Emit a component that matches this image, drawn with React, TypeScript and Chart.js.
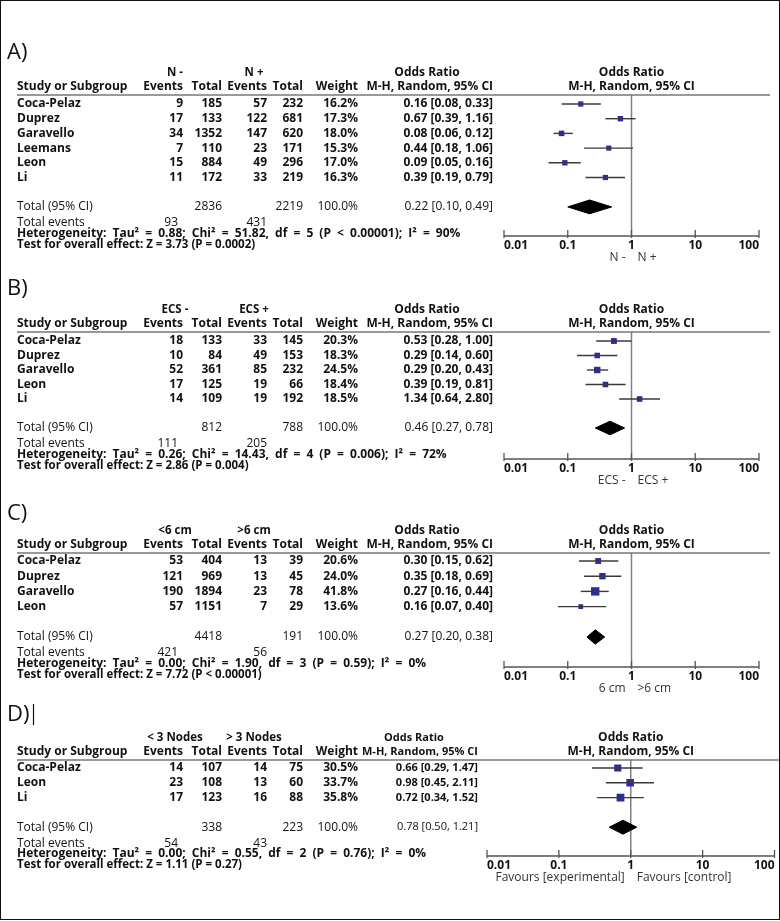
import React, { useEffect, useRef } from "react";
import { Chart, registerables } from "chart.js";

Chart.register(...registerables);

// ---------- Panel A ----------
const A_GROUPS = ["N -", "N +"];
const A_STUDIES = ["Coca-Pelaz", "Duprez", "Garavello", "Leemans", "Leon", "Li"];
const A_EV1 = [9, 17, 34, 7, 15, 11];
const A_TOT1 = [185, 133, 1352, 110, 884, 172];
const A_EV2 = [57, 122, 147, 23, 49, 33];
const A_TOT2 = [232, 681, 620, 171, 296, 219];
const A_WEIGHT = [16.2, 17.3, 18.0, 15.3, 17.0, 16.3];
const A_OR = [0.16, 0.67, 0.08, 0.44, 0.09, 0.39];
const A_LO = [0.08, 0.39, 0.06, 0.18, 0.05, 0.19];
const A_HI = [0.33, 1.16, 0.12, 1.06, 0.16, 0.79];
const A_TOTALS = [2836, 2219];
const A_TOTAL_EVENTS = [93, 431];
const A_POOLED = [0.22, 0.1, 0.49];
const A_HET = "Heterogeneity: Tau² = 0.88; Chi² = 51.82, df = 5 (P < 0.00001); I² = 90%";
const A_TEST = "Test for overall effect: Z = 3.73 (P = 0.0002)";
const A_CAPTION = ["N -", "N +"];

// ---------- Panel B ----------
const B_GROUPS = ["ECS -", "ECS +"];
const B_STUDIES = ["Coca-Pelaz", "Duprez", "Garavello", "Leon", "Li"];
const B_EV1 = [18, 10, 52, 17, 14];
const B_TOT1 = [133, 84, 361, 125, 109];
const B_EV2 = [33, 49, 85, 19, 19];
const B_TOT2 = [145, 153, 232, 66, 192];
const B_WEIGHT = [20.3, 18.3, 24.5, 18.4, 18.5];
const B_OR = [0.53, 0.29, 0.29, 0.39, 1.34];
const B_LO = [0.28, 0.14, 0.2, 0.19, 0.64];
const B_HI = [1.0, 0.6, 0.43, 0.81, 2.8];
const B_TOTALS = [812, 788];
const B_TOTAL_EVENTS = [111, 205];
const B_POOLED = [0.46, 0.27, 0.78];
const B_HET = "Heterogeneity: Tau² = 0.26; Chi² = 14.43, df = 4 (P = 0.006); I² = 72%";
const B_TEST = "Test for overall effect: Z = 2.86 (P = 0.004)";
const B_CAPTION = ["ECS -", "ECS +"];

// ---------- Panel C ----------
const C_GROUPS = ["<6 cm", ">6 cm"];
const C_STUDIES = ["Coca-Pelaz", "Duprez", "Garavello", "Leon"];
const C_EV1 = [53, 121, 190, 57];
const C_TOT1 = [404, 969, 1894, 1151];
const C_EV2 = [13, 13, 23, 7];
const C_TOT2 = [39, 45, 78, 29];
const C_WEIGHT = [20.6, 24.0, 41.8, 13.6];
const C_OR = [0.3, 0.35, 0.27, 0.16];
const C_LO = [0.15, 0.18, 0.16, 0.07];
const C_HI = [0.62, 0.69, 0.44, 0.4];
const C_TOTALS = [4418, 191];
const C_TOTAL_EVENTS = [421, 56];
const C_POOLED = [0.27, 0.2, 0.38];
const C_HET = "Heterogeneity: Tau² = 0.00; Chi² = 1.90, df = 3 (P = 0.59); I² = 0%";
const C_TEST = "Test for overall effect: Z = 7.72 (P < 0.00001)";
const C_CAPTION = ["6 cm", ">6 cm"];

// ---------- Panel D ----------
const D_GROUPS = ["< 3 Nodes", "> 3 Nodes"];
const D_STUDIES = ["Coca-Pelaz", "Leon", "Li"];
const D_EV1 = [14, 23, 17];
const D_TOT1 = [107, 108, 123];
const D_EV2 = [14, 13, 16];
const D_TOT2 = [75, 60, 88];
const D_WEIGHT = [30.5, 33.7, 35.8];
const D_OR = [0.66, 0.98, 0.72];
const D_LO = [0.29, 0.45, 0.34];
const D_HI = [1.47, 2.11, 1.52];
const D_TOTALS = [338, 223];
const D_TOTAL_EVENTS = [54, 43];
const D_POOLED = [0.78, 0.5, 1.21];
const D_HET = "Heterogeneity: Tau² = 0.00; Chi² = 0.55, df = 2 (P = 0.76); I² = 0%";
const D_TEST = "Test for overall effect: Z = 1.11 (P = 0.27)";
const D_CAPTION = ["Favours [experimental]", "Favours [control]"];

// ---------- Axis ----------
const AXIS_TICKS = [0.01, 0.1, 1, 10, 100];
const AXIS_LABELS = ["0.01", "0.1", "1", "10", "100"];

const FONT = '"Open Sans", "DejaVu Sans", sans-serif';
const INK = "#111";

type Layout = {
  top: number; height: number; labelY: number; lineY: number; axisY: number;
  firstRowY: number; rowStep: number; xMin: number; xMax: number;
  orRight: number; orHeaderX: number; lineRight: number; orSize: number;
};

type Panel = {
  label: string; groups: string[]; studies: string[]; ev1: number[]; tot1: number[];
  ev2: number[]; tot2: number[]; weight: number[]; or: number[]; lo: number[]; hi: number[];
  totals: number[]; totalEvents: number[]; pooled: number[]; het: string; test: string;
  caption: string[]; layout: Layout;
};

const PANELS: Panel[] = [
  {
    label: "A)", groups: A_GROUPS, studies: A_STUDIES, ev1: A_EV1, tot1: A_TOT1, ev2: A_EV2, tot2: A_TOT2,
    weight: A_WEIGHT, or: A_OR, lo: A_LO, hi: A_HI, totals: A_TOTALS, totalEvents: A_TOTAL_EVENTS,
    pooled: A_POOLED, het: A_HET, test: A_TEST, caption: A_CAPTION,
    layout: { top: 0, height: 272, labelY: 53, lineY: 95, axisY: 236, firstRowY: 104, rowStep: 14.7,
      xMin: 504, xMax: 759, orRight: 493, orHeaderX: 427, lineRight: 770, orSize: 12 },
  },
  {
    label: "B)", groups: B_GROUPS, studies: B_STUDIES, ev1: B_EV1, tot1: B_TOT1, ev2: B_EV2, tot2: B_TOT2,
    weight: B_WEIGHT, or: B_OR, lo: B_LO, hi: B_HI, totals: B_TOTALS, totalEvents: B_TOTAL_EVENTS,
    pooled: B_POOLED, het: B_HET, test: B_TEST, caption: B_CAPTION,
    layout: { top: 268, height: 226, labelY: 289, lineY: 332, axisY: 459, firstRowY: 341, rowStep: 14.5,
      xMin: 504, xMax: 759, orRight: 493, orHeaderX: 427, lineRight: 770, orSize: 12 },
  },
  {
    label: "C)", groups: C_GROUPS, studies: C_STUDIES, ev1: C_EV1, tot1: C_TOT1, ev2: C_EV2, tot2: C_TOT2,
    weight: C_WEIGHT, or: C_OR, lo: C_LO, hi: C_HI, totals: C_TOTALS, totalEvents: C_TOTAL_EVENTS,
    pooled: C_POOLED, het: C_HET, test: C_TEST, caption: C_CAPTION,
    layout: { top: 490, height: 210, labelY: 514, lineY: 553, axisY: 667, firstRowY: 561, rowStep: 15.2,
      xMin: 504, xMax: 759, orRight: 493, orHeaderX: 427, lineRight: 770, orSize: 12 },
  },
  {
    label: "D)", groups: D_GROUPS, studies: D_STUDIES, ev1: D_EV1, tot1: D_TOT1, ev2: D_EV2, tot2: D_TOT2,
    weight: D_WEIGHT, or: D_OR, lo: D_LO, hi: D_HI, totals: D_TOTALS, totalEvents: D_TOTAL_EVENTS,
    pooled: D_POOLED, het: D_HET, test: D_TEST, caption: D_CAPTION,
    layout: { top: 690, height: 230, labelY: 715, lineY: 760, axisY: 856, firstRowY: 768, rowStep: 14.8,
      xMin: 487, xMax: 775, orRight: 478, orHeaderX: 414, lineRight: 780, orSize: 11 },
  },
];

const COL = { study: 17, ev1: 183, tot1: 222, ev2: 267, tot2: 303, weight: 358, g1: 175, g2: 254 };

const fmt = (v: number) => v.toFixed(2);

function ForestPanel({ p }: { p: Panel }) {
  const ref = useRef<HTMLCanvasElement | null>(null);

  useEffect(() => {
    const canvas = ref.current;
    if (!canvas) return;
    const L = p.layout;
    const n = p.studies.length;
    const totalRow = n + 1;
    const yMin = (L.lineY - L.firstRowY) / L.rowStep;
    const yMax = (L.axisY - L.firstRowY) / L.rowStep;

    const datasets: any[] = [];
    p.studies.forEach((_, i) => {
      datasets.push({
        data: [{ x: p.lo[i], y: i }, { x: p.hi[i], y: i }],
        showLine: true, borderColor: "#3a3a3a", borderWidth: 1.4, pointRadius: 0,
      });
    });
    datasets.push({
      data: p.or.map((v, i) => ({ x: v, y: i })),
      showLine: false, pointStyle: "rect",
      pointRadius: p.weight.map((w) => (1.3 * Math.sqrt(w)) / Math.SQRT2),
      backgroundColor: "#2c2c9c", borderWidth: 0,
    });
    const [pe, plo, phi] = p.pooled;
    const h = 0.47;
    datasets.push({
      data: [
        { x: plo, y: totalRow }, { x: pe, y: totalRow - h }, { x: phi, y: totalRow },
        { x: pe, y: totalRow + h }, { x: plo, y: totalRow },
      ],
      showLine: true, fill: "shape", backgroundColor: "#000", borderColor: "#000",
      borderWidth: 1, pointRadius: 0, tension: 0,
    });

    const py = (pageY: number) => pageY - L.top;

    const plugin = {
      id: "forestTable",
      beforeDatasetsDraw(chart: any) {
        const { ctx, chartArea, scales } = chart;
        const x1 = scales.x.getPixelForValue(1);
        ctx.save();
        ctx.strokeStyle = "#808080";
        ctx.lineWidth = 1.5;
        ctx.beginPath();
        ctx.moveTo(x1, chartArea.top);
        ctx.lineTo(x1, chartArea.bottom);
        ctx.stroke();
        ctx.restore();
      },
      afterDraw(chart: any) {
        const { ctx, chartArea, scales } = chart;
        const xs = scales.x;
        const ys = scales.y;
        const x1 = xs.getPixelForValue(1);
        const top = chartArea.top;
        const bottom = chartArea.bottom;
        ctx.save();
        ctx.textBaseline = "middle";
        const t = (s: string, x: number, y: number, align: CanvasTextAlign, weight = 700, size = 12, color = INK, ws = 0) => {
          ctx.font = `${weight} ${size}px ${FONT}`;
          ctx.fillStyle = color;
          ctx.textAlign = align;
          (ctx as any).wordSpacing = `${ws}px`;
          ctx.fillText(s, x, y);
          (ctx as any).wordSpacing = "0px";
        };

        // panel label
        t(p.label, 7, py(L.labelY), "left", 400, 22, "#111");
        if (p.label === "D)") {
          ctx.strokeStyle = "#111";
          ctx.lineWidth = 1.2;
          ctx.beginPath();
          ctx.moveTo(33.5, py(L.labelY) - 11);
          ctx.lineTo(33.5, py(L.labelY) + 10);
          ctx.stroke();
        }

        // header line
        ctx.strokeStyle = "#777";
        ctx.lineWidth = 1.5;
        ctx.beginPath();
        ctx.moveTo(COL.study, top);
        ctx.lineTo(L.lineRight, top);
        ctx.stroke();

        // group headers
        const gy = top - 22;
        const hy = top - 8.5;
        t(p.groups[0], COL.g1, gy, "center", 700, 11.5);
        t(p.groups[1], COL.g2, gy, "center", 700, 11.5);
        t("Odds Ratio", L.orHeaderX, gy, "center", 700, L.orSize);
        t("Odds Ratio", x1, gy, "center");
        t("Study or Subgroup", COL.study, hy, "left");
        t("Events", COL.ev1, hy, "right");
        t("Total", COL.tot1, hy, "right");
        t("Events", COL.ev2, hy, "right");
        t("Total", COL.tot2, hy, "right");
        t("Weight", COL.weight, hy, "right");
        t("M-H, Random, 95% CI", L.orRight, hy, "right", 700, L.orSize);
        t("M-H, Random, 95% CI", x1, hy, "center");

        // study rows
        p.studies.forEach((s, i) => {
          const y = ys.getPixelForValue(i);
          t(s, COL.study, y, "left");
          t(String(p.ev1[i]), COL.ev1, y, "right");
          t(String(p.tot1[i]), COL.tot1, y, "right");
          t(String(p.ev2[i]), COL.ev2, y, "right");
          t(String(p.tot2[i]), COL.tot2, y, "right");
          t(p.weight[i].toFixed(1) + "%", COL.weight, y, "right");
          t(`${fmt(p.or[i])} [${fmt(p.lo[i])}, ${fmt(p.hi[i])}]`, L.orRight, y, "right", 700, L.orSize);
        });

        // total row
        const ty = ys.getPixelForValue(totalRow);
        t("Total (95% CI)", COL.study, ty, "left", 400);
        t(String(p.totals[0]), COL.tot1, ty, "right", 400);
        t(String(p.totals[1]), COL.tot2, ty, "right", 400);
        t("100.0%", COL.weight, ty, "right", 400);
        t(`${fmt(p.pooled[0])} [${fmt(p.pooled[1])}, ${fmt(p.pooled[2])}]`, L.orRight, ty, "right", 400, L.orSize);
        t("Total events", COL.study, ty + 16, "left", 400);
        t(String(p.totalEvents[0]), COL.ev1 - 5, ty + 16, "right", 400);
        t(String(p.totalEvents[1]), COL.ev2, ty + 16, "right", 400);
        t(p.het, COL.study, ty + 26.5, "left", 700, 12, INK, 3);
        t(p.test, COL.study, ty + 37.5, "left", 700, 11.5);

        // axis
        ctx.strokeStyle = "#555";
        ctx.lineWidth = 1.3;
        ctx.beginPath();
        ctx.moveTo(xs.getPixelForValue(AXIS_TICKS[0]), bottom);
        ctx.lineTo(xs.getPixelForValue(AXIS_TICKS[AXIS_TICKS.length - 1]), bottom);
        AXIS_TICKS.forEach((v) => {
          const x = xs.getPixelForValue(v);
          ctx.moveTo(x, bottom - 6);
          ctx.lineTo(x, bottom + 2);
        });
        ctx.stroke();
        AXIS_TICKS.forEach((v, i) => {
          const align: CanvasTextAlign = i === 0 ? "left" : i === AXIS_TICKS.length - 1 ? "right" : "center";
          t(AXIS_LABELS[i], xs.getPixelForValue(v), bottom + 10, align, 700);
        });
        t(p.caption[0], x1 - 6, bottom + 22, "right", 400, 12, "#333");
        t(p.caption[1], x1 + 6, bottom + 22, "left", 400, 12, "#333");
        ctx.restore();
      },
    };

    const chart = new Chart(canvas, {
      type: "scatter",
      data: { datasets },
      options: {
        animation: false,
        responsive: false,
        events: [],
        layout: {
          padding: {
            left: L.xMin,
            right: 780 - L.xMax,
            top: L.lineY - L.top,
            bottom: L.top + L.height - L.axisY,
          },
        },
        plugins: { legend: { display: false }, tooltip: { enabled: false }, title: { display: false } },
        scales: {
          x: { type: "logarithmic", min: 0.01, max: 100, display: false },
          y: { type: "linear", min: yMin, max: yMax, reverse: true, display: false },
        },
      },
      plugins: [plugin],
    } as any);

    return () => chart.destroy();
  }, [p]);

  return (
    <canvas
      ref={ref}
      width={780}
      height={p.layout.height}
      style={{ position: "absolute", left: 0, top: p.layout.top, width: 780, height: p.layout.height }}
    />
  );
}

export default function App() {
  return (
    <div
      style={{
        position: "absolute",
        left: 0,
        top: 0,
        width: 780,
        height: 920,
        background: "#fff",
        overflow: "hidden",
      }}
    >
      {PANELS.map((p) => (
        <ForestPanel key={p.label} p={p} />
      ))}
      <div
        style={{
          position: "absolute",
          left: 0,
          top: 0,
          width: 780,
          height: 920,
          border: "1.5px solid #111",
          boxSizing: "border-box",
          pointerEvents: "none",
        }}
      />
    </div>
  );
}
